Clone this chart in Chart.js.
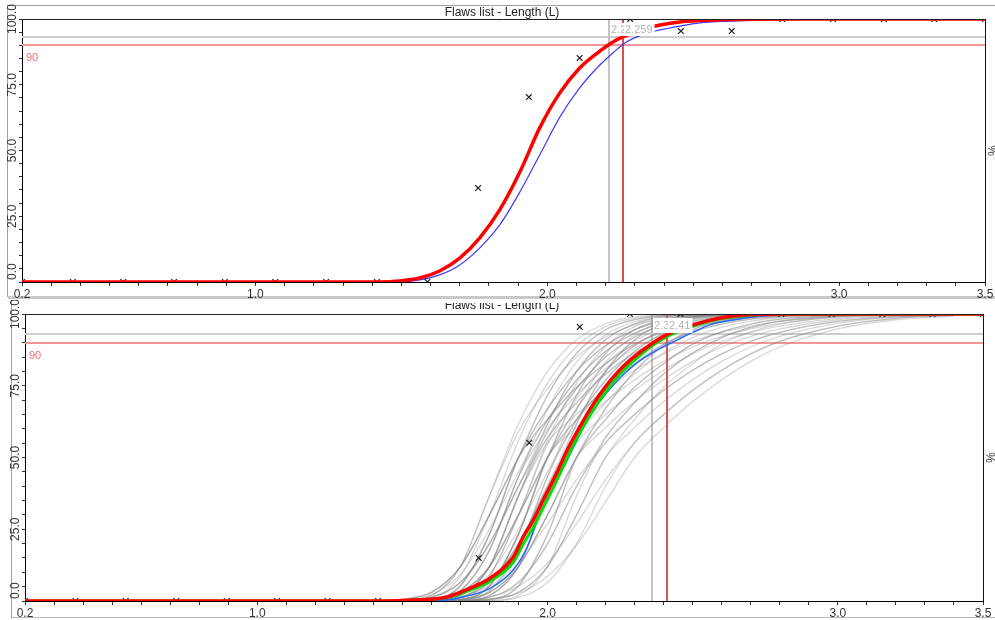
<!DOCTYPE html>
<html>
<head>
<meta charset="utf-8">
<script src="https://cdn.jsdelivr.net/npm/chart.js@4.4.0/dist/chart.umd.min.js"></script>
<style>
  html, body { margin: 0; padding: 0; background: #fff; }
  #wrap { position: relative; width: 995px; height: 620px; overflow: hidden; }
  canvas { position: absolute; left: 0; }
  #c1 { top: 0; }
  #c2 { top: 300px; }
</style>
</head>
<body>
<div id="wrap">
  <canvas id="c1" width="995" height="300"></canvas>
  <canvas id="c2" width="995" height="320"></canvas>
</div>
<script>
// ---- data ----
const titleText = 'Flaws list - Length (L)';
const xTickLabels = [0.2, 1.0, 2.0, 3.0, 3.5];
const yTickLabels = [0, 25, 50, 75, 100];
const level93 = 93;
const level90 = 90;

// sample points (x markers)
const markerX = [0.2, 0.374, 0.547, 0.721, 0.895, 1.068, 1.242, 1.416, 1.589, 1.763,
                 1.937, 2.111, 2.284, 2.458, 2.632, 2.805, 2.979, 3.153, 3.326, 3.5];
const topMarkerY = [0, 0, 0, 0, 0, 0, 0, 0, 0, 35.7, 70.3, 85.2, 100, 95.4, 95.4, 100, 100, 100, 100, 100];
const botMarkerY = [0, 0, 0, 0, 0, 0, 0, 0, 0, 15.0, 55.1, 95.5, 100, 100, 100, 100, 100, 100, 100, 100];

// top panel curves
const topRedX = [0.2, 1.0, 1.425, 1.494, 1.563, 1.631, 1.700, 1.768, 1.837, 1.906, 1.974, 2.043, 2.111,
                 2.180, 2.225, 2.259, 2.358, 2.455, 2.523, 2.626, 2.866, 3.5];
const topRedY = [0, 0, 0, 0.4, 1.5, 4.2, 9.1, 16.7, 27.4, 41.8, 58.6, 71.9, 81.4,
                 87.8, 91.3, 93.2, 97.0, 98.9, 99.4, 99.8, 100, 100];
const topBlueX = [0.2, 1.0, 1.494, 1.563, 1.631, 1.700, 1.768, 1.837, 1.906, 1.974, 2.043, 2.111, 2.180,
                  2.225, 2.266, 2.307, 2.358, 2.455, 2.523, 2.626, 2.763, 3.04, 3.5];
const topBlueY = [0, 0, 0, 0.8, 2.7, 6.5, 12.9, 21.7, 34.2, 48.3, 62.7, 73.8, 82.5,
                  87.1, 90.9, 93.2, 95.1, 97.3, 98.5, 99.2, 99.8, 100, 100];
const topLimits = { gray: 2.21, red: 2.259, grayText: '2.21', redText: '2.259' };

// bottom panel curves
const botRedX = [0.2, 1.0, 1.4, 1.537, 1.654, 1.734, 1.803, 1.882, 1.916, 1.951, 1.985, 2.027, 2.068,
                 2.113, 2.157, 2.202, 2.244, 2.285, 2.364, 2.423, 2.502, 2.595, 2.688, 2.846, 3.5];
const botRedY = [0, 0, 0, 0.35, 1.4, 4.5, 8.0, 15.3, 22.3, 28.2, 35.2, 43.6, 52.6,
                 61.0, 68.5, 75.0, 80.0, 84.0, 90.0, 93.4, 96.2, 98.6, 99.7, 100, 100];
const botGreenX = botRedX;
const botGreenY = [0, 0, 0, 0.3, 1.2, 3.8, 7.0, 13.5, 19.8, 25.8, 32.5, 41.0, 50.0,
                   59.0, 66.5, 73.2, 78.5, 82.6, 89.2, 92.7, 95.8, 98.3, 99.5, 100, 100];
const botBlueX = [0.2, 1.0, 1.596, 1.710, 1.803, 1.882, 1.930, 1.965, 2.009, 2.054, 2.102, 2.147, 2.199,
                  2.250, 2.290, 2.330, 2.388, 2.447, 2.502, 2.560, 2.640, 2.733, 2.846, 3.5];
const botBlueY = [0, 0, 0, 1.4, 4.5, 10.8, 18.8, 28.2, 37.3, 46.3, 56.1, 64.8, 72.0,
                  77.8, 81.5, 84.5, 88.0, 91.0, 93.7, 96.2, 97.9, 99.3, 100, 100];
const botLimits = { gray: 2.36, red: 2.41, grayText: '2.36', redText: '2.41' };

// bootstrap curves (gray bundle), values at grayX
const grayX = [1.5, 1.6, 1.7, 1.8, 1.9, 2.0, 2.1, 2.2, 2.3, 2.4, 2.5, 2.6, 2.7, 2.8, 3.0, 3.2, 3.4];
const grayCurves = [
  [0.1, 1.9, 12, 36.7, 61.7, 80, 91, 96.6, 99, 99.6, 99.9, 100, 100, 100, 100, 100, 100],
  [0, 0.5, 5.3, 23.3, 50, 71.7, 86.3, 94.5, 98, 99.4, 99.8, 100, 100, 100, 100, 100, 100],
  [0, 0.5, 5.3, 23.3, 50, 67, 80, 89, 94.5, 97.5, 99, 99.6, 99.8, 99.9, 100, 100, 100],
  [0, 0.1, 1.9, 12, 36.7, 61.7, 80, 91, 96.6, 99, 99.6, 99.9, 100, 100, 100, 100, 100],
  [0, 0.1, 1.9, 12, 36.7, 59, 74, 85, 92, 96.2, 98.4, 99.3, 99.7, 99.85, 100, 100, 100],
  [0.2, 1.3, 6.5, 20, 40, 59, 74, 85, 92, 96.2, 98.4, 99.3, 99.7, 99.85, 100, 100, 100],
  [0, 0, 0.5, 5.3, 23.3, 50, 71.7, 86.3, 94.5, 98, 99.4, 99.8, 100, 100, 100, 100, 100],
  [0, 0, 0.5, 5.3, 23.3, 50, 67, 80, 89, 94.5, 97.5, 99, 99.6, 99.8, 100, 100, 100],
  [0, 0.5, 3, 12, 30, 50, 63.3, 74.5, 82.7, 89.5, 93.8, 96.5, 98.2, 99.1, 99.75, 99.95, 100],
  [0, 0, 0.1, 1.9, 12, 36.7, 59, 74, 85, 92, 96.2, 98.4, 99.3, 99.7, 99.95, 100, 100],
  [0, 0.2, 1.3, 6.5, 20, 40, 59, 74, 85, 92, 96.2, 98.4, 99.3, 99.7, 99.95, 100, 100],
  [0, 0.5, 3, 12, 30, 50, 67, 80, 89, 94.5, 97.5, 99, 99.6, 99.8, 100, 100, 100],
  [0, 0, 0.5, 3, 12, 30, 50, 63.3, 74.5, 82.7, 89.5, 93.8, 96.5, 98.2, 99.5, 99.85, 100],
  [0, 0, 0.5, 3, 12, 30, 50, 67, 80, 89, 94.5, 97.5, 99, 99.6, 99.9, 100, 100],
  [0, 0, 0.2, 1.3, 6.5, 20, 40, 56.9, 69.1, 79.1, 86.5, 91.8, 95.3, 97.5, 99.3, 99.8, 100],
  [0, 0.2, 1.3, 6.5, 20, 40, 55.2, 65, 73.4, 80.4, 86.1, 90.5, 93.6, 95.8, 98.5, 99.5, 99.8],
  [0, 0, 0, 0.5, 3, 12, 30, 50, 63.3, 74.5, 82.7, 89.5, 93.8, 96.5, 99.1, 99.75, 99.95],
  [0, 0.35, 1.4, 5.2, 13.2, 27, 42.3, 55.2, 65, 73.4, 80.4, 86.1, 90.5, 93.6, 97.4, 99.1, 99.7],
  [0, 0, 0.35, 1.4, 5.2, 13.2, 27, 42.3, 55.2, 65, 73.4, 80.4, 86.1, 90.5, 95.8, 98.5, 99.5],
  [0, 0, 0, 0.5, 3, 12, 30, 50, 60.4, 69.5, 77.1, 83.5, 88.5, 92.2, 96.7, 98.9, 99.6],
  [0, 0, 0.15, 0.8, 2.7, 8.6, 19.4, 34.6, 50, 60.4, 69.5, 77.1, 83.5, 88.5, 94.8, 98, 99.3],
  [0, 0.5, 5.3, 23.3, 50, 63.3, 74.5, 82.7, 89.5, 93.8, 96.5, 98.2, 99.1, 99.5, 99.85, 100, 100],
  [0.1, 1.9, 12, 36.7, 59, 74, 85, 92, 96.2, 98.4, 99.3, 99.7, 99.85, 99.95, 100, 100, 100],
  [0, 0, 0, 0.5, 5.3, 23.3, 50, 63.3, 74.5, 82.7, 89.5, 93.8, 96.5, 98.2, 99.5, 99.85, 100],
  [0, 0.1, 1.9, 12, 36.7, 56.9, 69.1, 79.1, 86.5, 91.8, 95.3, 97.5, 98.7, 99.3, 99.8, 99.97, 100],
  [0, 0, 0.5, 5.3, 23.3, 50, 60.4, 69.5, 77.1, 83.5, 88.5, 92.2, 94.8, 96.7, 98.9, 99.6, 99.85],
  [0, 0, 0.1, 1.9, 12, 36.7, 61.7, 80, 91, 96.6, 99, 99.6, 99.9, 100, 100, 100, 100],
  [0.5, 3, 12, 30, 50, 67, 80, 89, 94.5, 97.5, 99, 99.6, 99.8, 99.9, 100, 100, 100],
  [0, 0, 0, 0.2, 1.3, 6.5, 20, 40, 55.2, 65, 73.4, 80.4, 86.1, 90.5, 95.8, 98.5, 99.5],
  [0, 0, 0.2, 1.3, 6.5, 20, 40, 55.2, 65, 73.4, 80.4, 86.1, 90.5, 93.6, 97.4, 99.1, 99.7],
  [0, 0.5, 3, 12, 30, 50, 71.7, 86.3, 94.5, 98, 99.4, 99.8, 100, 100, 100, 100, 100],
  [0.2, 1.3, 6.5, 20, 40, 61.7, 80, 91, 96.6, 99, 99.6, 99.9, 100, 100, 100, 100, 100],
  [0, 0.2, 1.3, 6.5, 20, 40, 61.7, 80, 91, 96.6, 99, 99.6, 99.9, 100, 100, 100, 100],
  [0, 0, 0, 0.5, 5.3, 23.3, 50, 67, 80, 89, 94.5, 97.5, 99, 99.6, 99.9, 100, 100],
  [0, 0.1, 1.9, 12, 36.7, 55.2, 65, 73.4, 80.4, 86.1, 90.5, 93.6, 95.8, 97.4, 99.1, 99.7, 99.9],
  [0.5, 3, 12, 30, 50, 63.3, 74.5, 82.7, 89.5, 93.8, 96.5, 98.2, 99.1, 99.5, 99.85, 100, 100],
  [0, 0, 0.1, 1.9, 12, 36.7, 56.9, 69.1, 79.1, 86.5, 91.8, 95.3, 97.5, 98.7, 99.6, 99.9, 100],
  [0, 0, 0.5, 5.3, 23.3, 50, 63.3, 74.5, 82.7, 89.5, 93.8, 96.5, 98.2, 99.1, 99.75, 99.95, 100],
  [0.2, 1.3, 6.5, 20, 40, 56.9, 69.1, 79.1, 86.5, 91.8, 95.3, 97.5, 98.7, 99.3, 99.8, 99.97, 100],
  [0, 0, 0.5, 3, 12, 30, 50, 60.4, 69.5, 77.1, 83.5, 88.5, 92.2, 94.8, 98, 99.3, 99.75],
  [0.5, 3, 12, 30, 50, 71.7, 86.3, 94.5, 98, 99.4, 99.8, 100, 100, 100, 100, 100, 100],
  [0, 0, 0, 0.1, 1.9, 12, 36.7, 56.9, 69.1, 79.1, 86.5, 91.8, 95.3, 97.5, 99.3, 99.8, 100],
  [0, 0.05, 1.2, 8.7, 30, 55.9, 75.9, 88.7, 95.6, 98.5, 99.5, 99.85, 100, 100, 100, 100, 100],
  [0.05, 1.2, 8.7, 30, 55.9, 75.9, 88.7, 95.6, 98.5, 99.5, 99.85, 100, 100, 100, 100, 100, 100],
  [0, 0.3, 3.6, 17.7, 43.4, 66.7, 83.2, 92.8, 97.3, 99.2, 99.7, 99.95, 100, 100, 100, 100, 100],
  [0, 0, 0.3, 3.6, 17.7, 43.4, 66.7, 83.2, 92.8, 97.3, 99.2, 99.7, 99.95, 100, 100, 100, 100],
  [0, 0.3, 3.6, 17.7, 43.4, 63, 77, 87, 93.3, 96.9, 98.7, 99.45, 99.75, 99.9, 100, 100, 100],
  [0, 0.05, 1.2, 8.7, 30, 54.5, 70.5, 82.5, 90.5, 95.4, 98, 99.15, 99.65, 99.8, 100, 100, 100],
  [0, 0, 0.3, 3.6, 17.7, 43.4, 63, 77, 87, 93.3, 96.9, 98.7, 99.45, 99.75, 99.95, 100, 100],
  [0, 0.3, 3.6, 17.7, 43.4, 60.1, 71.8, 80.9, 88, 92.8, 95.9, 97.85, 98.9, 99.4, 99.8, 99.98, 100],
  [0, 0.35, 2.2, 9.3, 25, 45, 63, 77, 87, 93.3, 96.9, 98.7, 99.45, 99.75, 99.98, 100, 100],
  [0.35, 2.2, 9.3, 25, 45, 63, 77, 87, 93.3, 96.9, 98.7, 99.45, 99.75, 99.9, 100, 100, 100]
];

// ---- drawing ----
const FONT = '"Liberation Sans", Arial, sans-serif';
Chart.defaults.font.family = FONT;

function pts(xs, ys) {
  return xs.map((x, i) => ({ x: x, y: ys[i] }));
}

function curve(xs, ys, color, width) {
  return {
    data: pts(xs, ys), borderColor: color, borderWidth: width,
    pointRadius: 0, fill: false, cubicInterpolationMode: 'monotone'
  };
}

function markers(ys) {
  return {
    data: pts(markerX, ys), showLine: false, pointStyle: 'crossRot',
    pointRadius: 4, borderColor: '#222', borderWidth: 1.2, backgroundColor: '#222'
  };
}

function seg(ctx, x1, y1, x2, y2, color, w) {
  ctx.beginPath();
  ctx.strokeStyle = color;
  ctx.lineWidth = w;
  ctx.moveTo(x1, y1);
  ctx.lineTo(x2, y2);
  ctx.stroke();
}

//* plugin for frame, reference lines, limit labels and rotated y labels
function decor(o) {
  return {
    id: 'decor',
    beforeDraw(chart) {
      const { ctx, width, height } = chart;
      ctx.save();
      ctx.fillStyle = '#fff';
      ctx.fillRect(0, 0, width, height);
      ctx.fillStyle = '#222';
      ctx.font = '12px ' + FONT;
      ctx.textAlign = 'center';
      ctx.textBaseline = 'alphabetic';
      ctx.fillText(titleText, o.titleX, o.titleY);
      if (o.coverTop) {
        ctx.fillStyle = '#fff';
        ctx.fillRect(0, 0, width, o.coverTop);
      }
      o.frame.forEach(f => seg(ctx, f[0], f[1], f[2], f[3], f[4], f[5]));
      ctx.restore();
    },
    beforeDatasetsDraw(chart) {
      const { ctx, chartArea: a, scales: { x, y } } = chart;
      ctx.save();
      const y93 = Math.round(y.getPixelForValue(level93));
      const y90 = Math.round(y.getPixelForValue(level90));
      seg(ctx, a.left, y93, a.right, y93, 'rgb(205,205,205)', 2);
      seg(ctx, a.left, y90, a.right, y90, 'rgb(242,150,150)', 2);
      const xg = Math.round(x.getPixelForValue(o.limits.gray));
      const xr = Math.round(x.getPixelForValue(o.limits.red));
      seg(ctx, xg, a.top, xg, a.bottom, 'rgb(195,195,195)', 2);
      seg(ctx, xr, a.top, xr, a.bottom, 'rgb(218,80,80)', 2);
      ctx.fillStyle = 'rgb(240,110,110)';
      ctx.font = '11px ' + FONT;
      ctx.textAlign = 'left';
      ctx.textBaseline = 'middle';
      ctx.fillText(String(level90), a.left + 4, y90 + o.text90dy);
      ctx.restore();
    },
    afterDatasetsDraw(chart) {
      const { ctx, scales: { x, y } } = chart;
      ctx.save();
      ctx.font = '11px ' + FONT;
      ctx.textAlign = 'left';
      ctx.textBaseline = 'middle';
      const boxBottom = Math.round(y.getPixelForValue(level93)) - 1;
      [[o.limits.gray, o.limits.grayText], [o.limits.red, o.limits.redText]].forEach(l => {
        const px = Math.round(x.getPixelForValue(l[0]));
        const w = ctx.measureText(l[1]).width;
        ctx.fillStyle = '#fff';
        ctx.fillRect(px + 1, boxBottom - o.boxH, w + 3, o.boxH);
        ctx.fillStyle = '#b4b4b4';
        ctx.fillText(l[1], px + 2, boxBottom - o.boxH / 2);
      });
      ctx.restore();
    },
    afterDraw(chart) {
      const { ctx, chartArea: a, scales: { y } } = chart;
      ctx.save();
      seg(ctx, a.left, a.top + 0.5, a.right, a.top + 0.5, '#222', 1);
      seg(ctx, a.right + 0.5, a.top, a.right + 0.5, a.bottom, '#111', 1);
      ctx.fillStyle = '#333';
      ctx.font = '12px ' + FONT;
      ctx.textAlign = 'center';
      ctx.textBaseline = 'middle';
      yTickLabels.forEach(v => {
        const t = v.toFixed(1);
        const w = ctx.measureText(t).width;
        let c = y.getPixelForValue(v);
        if (c + w / 2 > a.bottom - 2) c = a.bottom - 2 - w / 2;
        ctx.save();
        ctx.translate(a.left - o.labelDx, c);
        ctx.rotate(-Math.PI / 2);
        ctx.fillText(t, 0, 0);
        ctx.restore();
      });
      ctx.save();
      ctx.translate(a.right + 6, (a.top + a.bottom) / 2);
      ctx.rotate(Math.PI / 2);
      ctx.fillText('%', 0, 0);
      ctx.restore();
      ctx.restore();
    }
  };
}

function makePanel(id, datasets, o) {
  new Chart(document.getElementById(id), {
    type: 'line',
    data: { datasets: datasets },
    options: {
      responsive: false,
      animation: false,
      events: [],
      layout: { padding: o.pad },
      plugins: { legend: { display: false }, title: { display: false }, tooltip: { enabled: false } },
      scales: {
        x: {
          type: 'linear', min: 0.2, max: 3.5,
          ticks: {
            stepSize: 0.1, autoSkip: false, maxRotation: 0, minRotation: 0, padding: 1,
            color: '#333', font: { size: 12 },
            callback: v => xTickLabels.some(t => Math.abs(t - v) < 1e-6) ? v.toFixed(1) : ''
          },
          grid: { drawOnChartArea: false, drawTicks: true, tickLength: 4, color: '#333' },
          border: { display: true, color: '#000', width: 1 },
          afterFit: s => { s.height = o.xHeight; s.paddingLeft = 0; s.paddingRight = 0; }
        },
        y: {
          min: 0, max: 100,
          ticks: { stepSize: 5, display: false },
          grid: { drawOnChartArea: false, drawTicks: true, tickLength: 3, color: '#333' },
          border: { display: true, color: '#000', width: 1 },
          afterFit: s => { s.width = o.yWidth; s.paddingTop = 0; s.paddingBottom = 0; }
        }
      }
    },
    plugins: [decor(o)]
  });
}

//* top panel
makePanel('c1', [
  curve(topRedX, topRedY, '#ff0000', 3.5),
  markers(topMarkerY),
  curve(topBlueX, topBlueY, '#3a3aff', 1.2)
], {
  pad: { left: 8, right: 10, top: 19, bottom: 0 }, xHeight: 18, yWidth: 14,
  titleX: 502, titleY: 16, coverTop: 0, limits: topLimits, boxH: 13, text90dy: 13, labelDx: 9.5,
  frame: [
    [8, 5.5, 995, 5.5, '#a0a0a0', 1],
    [7.5, 5, 7.5, 297, '#a0a0a0', 1],
    [8, 297.5, 995, 297.5, '#c8c8c8', 3]
  ]
});

//* bottom panel
const grayDatasets = grayCurves.map(c => curve(grayX, c, 'rgba(130,130,130,0.32)', 1.3));
makePanel('c2', [
  curve(botRedX, botRedY, '#ff0000', 3.5),
  curve(botGreenX, botGreenY, '#00dd00', 3),
  curve(botBlueX, botBlueY, '#2266ff', 1.5),
  markers(botMarkerY)
].concat(grayDatasets), {
  pad: { left: 12, right: 12, top: 14, bottom: 0 }, xHeight: 19, yWidth: 13,
  titleX: 502, titleY: 9, coverTop: 3, limits: botLimits, boxH: 15, text90dy: 12.5, labelDx: 9,
  frame: [
    [11.5, 0, 11.5, 318, '#a0a0a0', 1],
    [12, 317.5, 995, 317.5, '#b8b8b8', 1]
  ]
});
</script>
</body>
</html>
